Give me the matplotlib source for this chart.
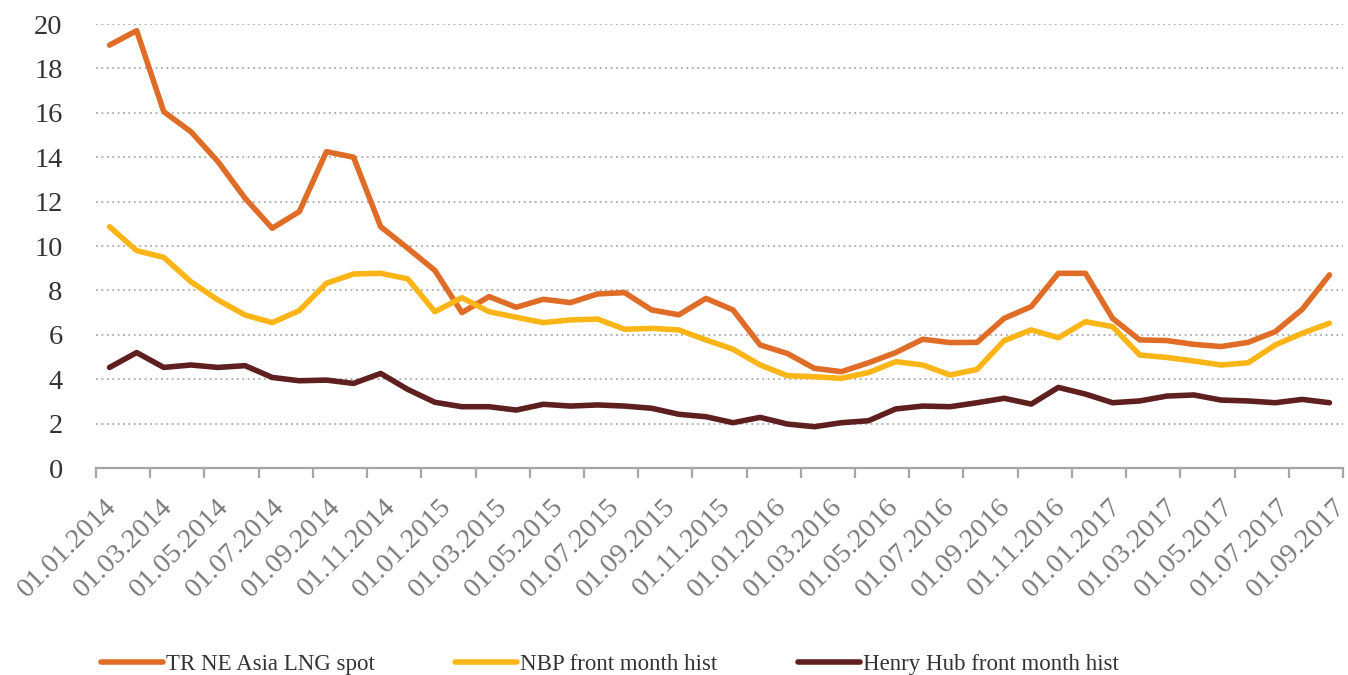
import numpy as np
import matplotlib
matplotlib.use("Agg")
import matplotlib.pyplot as plt

# monthly series, Jan 2014 .. Oct 2017
lng_spot = [19.05, 19.7, 16.05, 15.15, 13.8, 12.15, 10.8, 11.55, 14.25, 14.0,
            10.87, 9.9, 8.9, 7.0, 7.72, 7.24, 7.6, 7.45, 7.84, 7.9,
            7.12, 6.9, 7.64, 7.12, 5.54, 5.16, 4.49, 4.34, 4.74, 5.2,
            5.8, 5.65, 5.66, 6.74, 7.27, 8.77, 8.77, 6.74, 5.77, 5.74,
            5.57, 5.47, 5.66, 6.14, 7.15, 8.7]
nbp = [10.87, 9.79, 9.49, 8.39, 7.57, 6.89, 6.55, 7.09, 8.32, 8.74,
       8.77, 8.52, 7.04, 7.67, 7.04, 6.79, 6.55, 6.67, 6.71, 6.25,
       6.29, 6.22, 5.77, 5.35, 4.64, 4.16, 4.11, 4.04, 4.3, 4.79,
       4.64, 4.19, 4.44, 5.74, 6.22, 5.87, 6.59, 6.37, 5.09, 4.98,
       4.82, 4.64, 4.74, 5.54, 6.07, 6.52]
henry_hub = [4.53, 5.2, 4.53, 4.64, 4.53, 4.61, 4.08, 3.93, 3.96, 3.81,
             4.26, 3.54, 2.96, 2.76, 2.76, 2.61, 2.87, 2.79, 2.84, 2.79,
             2.69, 2.42, 2.31, 2.04, 2.28, 1.98, 1.86, 2.04, 2.13, 2.66,
             2.79, 2.76, 2.94, 3.14, 2.88, 3.63, 3.33, 2.94, 3.02, 3.24,
             3.29, 3.06, 3.02, 2.94, 3.09, 2.94]

months = [f"01.{m:02d}.{y}" for y in range(2014, 2018) for m in range(1, 13)][:46]
tick_labels = months[::2]

series_names = ["TR NE Asia LNG spot", "NBP front month hist", "Henry Hub front month hist"]
colors = ["#DF6C27", "#FBB516", "#5E1F1E"]

plt.rcParams['font.family'] = ['Liberation Serif', 'DejaVu Serif']

fig = plt.figure(figsize=(13.48, 6.75), dpi=100)
ax = fig.add_axes([96/1348, 1 - 468/675, 1247/1348, 444/675])

x = np.arange(len(months))
for vals, name, col in zip([lng_spot, nbp, henry_hub], series_names, colors):
    ax.plot(x, vals, color=col, lw=4.0, label=name, solid_capstyle='round',
            solid_joinstyle='round', clip_on=False, zorder=3)

ax.set_xlim(-0.5, len(months) - 0.5)
ax.set_ylim(0, 20)
ax.set_yticks(np.arange(0, 21, 2))
ax.yaxis.grid(True, color='#A9A9A9', linestyle=(0, (1, 2)), lw=1.3)
ax.set_axisbelow(True)

for s in ['top', 'right', 'left']:
    ax.spines[s].set_visible(False)
ax.spines['bottom'].set_color('#A6A6A6')
ax.spines['bottom'].set_linewidth(1.6)

# ticks at category boundaries every 2 months
ax.set_xticks(np.arange(-0.5, len(months), 2))
ax.set_xticklabels([])
ax.tick_params(axis='x', which='major', length=7, width=1.6, color='#A6A6A6')
ax.tick_params(axis='y', length=0, pad=24, labelsize=20.5, labelcolor='#333333')

label_pos = np.arange(0, 46, 2) * 1.03 - 0.2
ax.set_xticks(label_pos, tick_labels, minor=True)
ax.tick_params(axis='x', which='minor', length=0, pad=19, labelsize=20.5, labelcolor='#7A7A7A')
for lab in ax.get_xticklabels(minor=True):
    lab.set_rotation(45)
    lab.set_ha('right')
    lab.set_rotation_mode('anchor')

fig.legend(loc='lower left', bbox_to_anchor=(80/1348, -0.03), ncol=3, frameon=False,
           fontsize=16.5, handlelength=2.7, handletextpad=0.15, columnspacing=3.5,
           labelcolor='#333333')

fig.savefig('out.png', dpi=100)
